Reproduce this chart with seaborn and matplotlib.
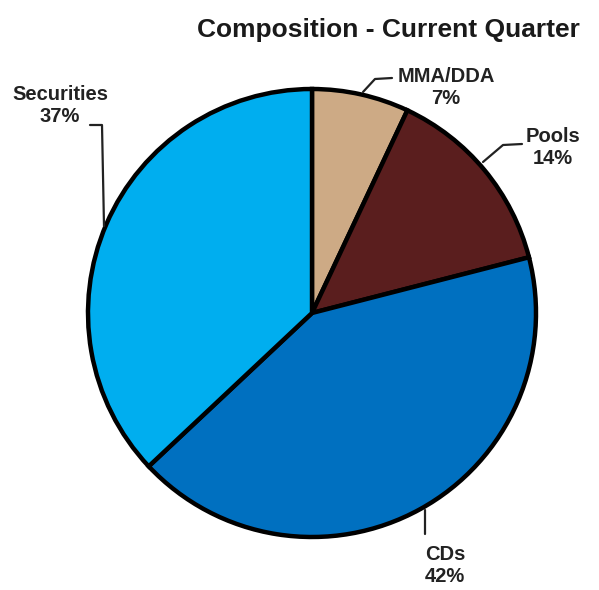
import matplotlib
matplotlib.use("Agg")
import matplotlib.pyplot as plt
import seaborn as sns

# slice data, clockwise from 12 o'clock
categories = ["MMA/DDA", "Pools", "CDs", "Securities"]
shares = [7, 14, 42, 37]
slice_colors = ["#CDAA85", "#5A1E1E", "#0070C0", "#00AEEF"]

sns.set_theme(style="white")
plt.rcParams["font.family"] = ["Liberation Sans", "DejaVu Sans"]

W, H = 599, 590
fig = plt.figure(figsize=(W / 100, H / 100), dpi=100)
ax = fig.add_axes([0, 0, 1, 1])

cx, cy, r = 312, H - 313, 224
ax.pie(shares, colors=slice_colors, startangle=90, counterclock=False,
       center=(cx, cy), radius=r,
       wedgeprops={"edgecolor": "black", "linewidth": 3.2})
ax.set_xlim(0, W)
ax.set_ylim(0, H)
ax.set_aspect("equal")
ax.axis("off")

ax.text(388, H - 30, "Composition - Current Quarter", ha="center", va="center",
        fontsize=19, fontweight="bold", color="#1a1a1a")

# label centres (pixel coords from top-left) and leader lines
label_pos = {
    "MMA/DDA": (446, 87),
    "Pools": (553, 148),
    "CDs": (445, 566),
    "Securities": (60, 106),
}
leaders = {
    "MMA/DDA": [(363, 92), (375, 79), (392, 78)],
    "Pools": [(483, 162), (503, 145), (522, 144)],
    "CDs": [(425, 510), (425, 534)],
    "Securities": [(90, 125), (102, 125), (104, 226)],
}

for cat, val in zip(categories, shares):
    lx, ly = label_pos[cat]
    ax.text(lx, H - ly, f"{cat}\n{val}%", ha="center", va="center",
            fontsize=14.5, fontweight="bold", color="#222222", linespacing=1.2)
    pts = leaders[cat]
    ax.plot([p[0] for p in pts], [H - p[1] for p in pts], color="#222222", lw=1.6)

fig.savefig("out.png", dpi=100)
